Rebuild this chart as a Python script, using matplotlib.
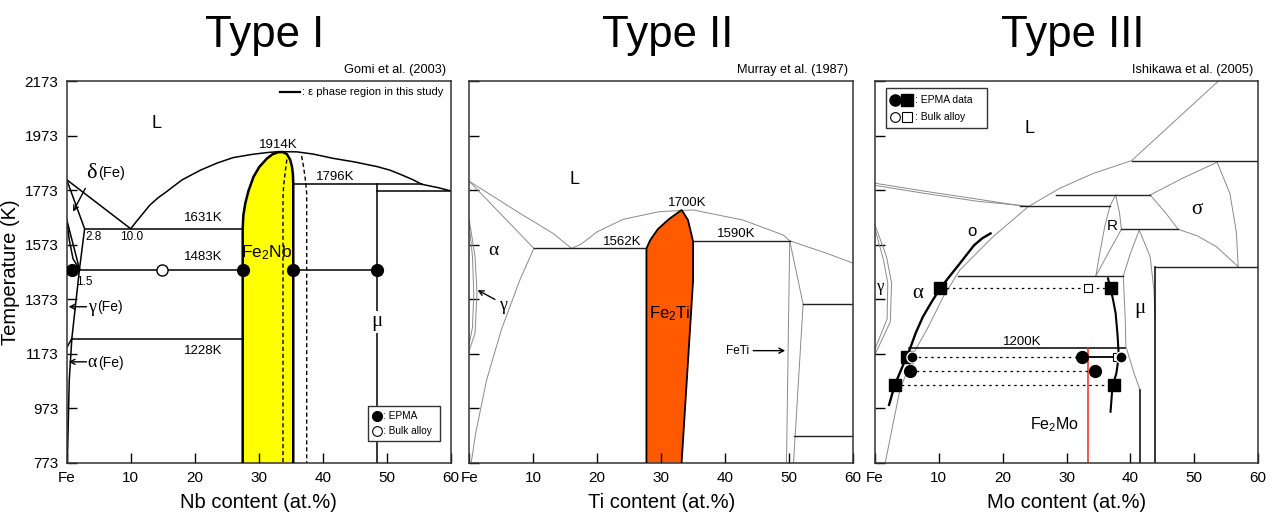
import matplotlib
matplotlib.use("Agg")
import matplotlib.pyplot as plt
from matplotlib.patches import Rectangle, Polygon

plt.rcParams["font.family"] = ["Liberation Sans", "DejaVu Sans"]
plt.rcParams["mathtext.fontset"] = "custom"
plt.rcParams["mathtext.rm"] = "Liberation Sans"
plt.rcParams["mathtext.it"] = "Liberation Sans:italic"

T_MIN, T_MAX = 773, 2173
temp_ticks = [773, 973, 1173, 1373, 1573, 1773, 1973, 2173]
comp_ticks = [0, 10, 20, 30, 40, 50, 60]
comp_labels = ["Fe", "10", "20", "30", "40", "50", "60"]
titles = ["Type I", "Type II", "Type III"]
xlabels = ["Nb content (at.%)", "Ti content (at.%)", "Mo content (at.%)"]
sources = ["Gomi et al. (2003)", "Murray et al. (1987)", "Ishikawa et al. (2005)"]

# ---------- Type I : Fe-Nb ----------
nb_liq_x = [0, 10.0, 10.8, 11.5, 13.0, 14.3, 15.6, 18.0, 20.9, 23.5, 26.0, 29.0, 31.5, 33.2,
            36.0, 38.5, 41.7, 45.0, 48.5, 50.5, 52.0, 54.0, 55.5, 58.0, 60.0]
nb_liq_t = [1811, 1631, 1655, 1675, 1718, 1745, 1767, 1810, 1846, 1872, 1892, 1904, 1911, 1914,
            1913, 1905, 1889, 1876, 1859, 1846, 1832, 1812, 1794, 1782, 1770]
nb_delta_x = [0, 2.8, 2.0]
nb_delta_t = [1811, 1631, 1483]
nb_gloop_x = [0, 2.0]
nb_gloop_t = [1665, 1483]
nb_gloop2_x = [0, 0.4, 1.0, 2.0]
nb_gloop2_t = [1665, 1590, 1520, 1483]
nb_gsolv_x = [2.0, 0.8, 0.4, 0.1]
nb_gsolv_t = [1483, 1228, 1076, 773]
nb_diag_x = [0.8, 0]
nb_diag_t = [1228, 1195]
nb_hx0 = [2.8, 0.9, 0.8, 35.4, 48.5, 35.4]
nb_hx1 = [27.5, 27.5, 27.5, 55.5, 60.0, 48.5]
nb_ht = [1631, 1480, 1228, 1796, 1770, 1478]
nb_mu_x = 48.5
nb_fe2nb_x = [27.5, 27.5, 27.6, 27.9, 28.4, 29.2, 30.1, 31.3, 32.2, 33.1, 33.8, 34.4, 34.9,
              35.2, 35.35, 35.4, 35.4]
nb_fe2nb_t = [773, 1631, 1680, 1724, 1770, 1822, 1858, 1889, 1905, 1912, 1912, 1905, 1885,
              1859, 1830, 1794, 773]
nb_dash1_x = [34.4, 34.1, 33.9, 33.8, 33.8]
nb_dash1_t = [1885, 1830, 1790, 1750, 773]
nb_dash2_x = [36.7, 37.0, 37.3, 37.5, 37.5]
nb_dash2_t = [1898, 1860, 1810, 1760, 773]
nb_epma_x = [0.9, 27.5, 35.4, 48.5]
nb_epma_t = [1478, 1478, 1478, 1478]
nb_bulk_x = [14.9]
nb_bulk_t = [1478]

# ---------- Type II : Fe-Ti ----------
ti_liq_x = [16.0, 17.5, 20.0, 24.1, 29.8, 35.0, 42.8, 49.1, 50.1, 55.9, 60.0]
ti_liq_t = [1559, 1575, 1620, 1666, 1694, 1700, 1663, 1608, 1587, 1541, 1505]
ti_la_x = [0, 10.1]
ti_la_t = [1805, 1559]
ti_lb_x = [0, 7.9, 13.1, 16.0]
ti_lb_t = [1805, 1688, 1614, 1559]
ti_asolv_x = [10.1, 7.9, 5.0, 2.7, 1.0, 0.3]
ti_asolv_t = [1559, 1443, 1260, 1076, 882, 773]
ti_gout_x = [0, 0.9, 1.2, 0.9, 0]
ti_gout_t = [1663, 1529, 1394, 1248, 1186]
ti_gin_x = [0, 0.5, 0.7, 0.5, 0]
ti_gin_t = [1640, 1529, 1394, 1270, 1210]
ti_fe2ti_x = [27.7, 27.7, 28.3, 29.5, 31.2, 33.2, 34.2, 35.0, 35.0, 33.2]
ti_fe2ti_t = [773, 1559, 1590, 1630, 1666, 1700, 1663, 1584, 1443, 773]
ti_hx0 = [10.1, 35.0, 52.2, 50.7]
ti_hx1 = [27.7, 50.1, 60.0, 60.0]
ti_ht = [1559, 1587, 1355, 872]
ti_feti1_x = [50.1, 49.6]
ti_feti1_t = [1587, 773]
ti_feti2_x = [50.1, 52.2, 50.7]
ti_feti2_t = [1587, 1355, 773]

# ---------- Type III : Fe-Mo ----------
mo_liqa_x = [0, 8, 16, 22.7]
mo_liqa_t = [1798, 1768, 1740, 1716]
mo_liqb_x = [0, 8, 16, 24.8]
mo_liqb_t = [1790, 1760, 1732, 1712]
mo_liq_x = [24.0, 28.9, 34.2, 40.2, 53.8]
mo_liq_t = [1712, 1779, 1834, 1881, 2173]
mo_hx0 = [40.2, 28.4, 22.7, 38.6, 43.9, 13.0]
mo_hx1 = [60.0, 43.1, 36.8, 47.5, 60.0, 38.9]
mo_ht = [1881, 1755, 1714, 1629, 1492, 1458]
mo_thin_lines = [
    ([37.7, 36.8], [1755, 1714]),
    ([37.7, 38.3, 38.6], [1755, 1690, 1629]),
    ([36.8, 36.0, 35.2, 34.6], [1714, 1640, 1540, 1458]),
    ([38.6, 36.5, 34.6], [1629, 1540, 1458]),
    ([43.1, 45.5, 47.5], [1755, 1690, 1629]),
    ([43.1, 48.5, 53.6], [1755, 1820, 1875]),
    ([53.6, 55.6, 56.6, 56.9], [1875, 1760, 1620, 1492]),
    ([47.5, 50.5, 53.5, 56.9], [1629, 1605, 1565, 1492]),
    ([41.4, 40.0, 38.9], [1626, 1540, 1458]),
    ([41.4, 43.1, 43.7, 43.9], [1626, 1529, 1406, 1300]),
    ([38.9, 39.2, 39.3, 40.6, 41.5], [1458, 1300, 1200, 1100, 1040]),
    ([0, 1.8, 2.6, 2.4, 0], [1645, 1529, 1432, 1290, 1170]),
    ([0, 1.3, 2.0, 1.9, 0], [1630, 1520, 1432, 1300, 1190]),
    ([24.0, 18.5, 13.3, 10.7, 8.1, 6.3, 3.9, 1.6], [1712, 1602, 1480, 1382, 1260, 1186, 1040, 773]),
]
mo_vx = [43.9, 41.5]
mo_vt0 = [773, 773]
mo_vt1 = [1492, 1040]
mo_alpha_x = [18.1, 16.8, 15.5, 13.3, 11.8, 10.2, 8.8, 7.5, 6.4, 5.4, 4.2, 3.1, 2.2]
mo_alpha_t = [1614, 1596, 1570, 1504, 1460, 1412, 1360, 1308, 1250, 1186, 1120, 1058, 985]
mo_fe2mo_x = [36.5, 36.9, 37.3, 37.7, 38.0, 38.2, 37.8, 37.2, 36.9]
mo_fe2mo_t = [1449, 1412, 1370, 1321, 1240, 1162, 1100, 1052, 960]
mo_1200_x = [5.4, 39.2]
mo_1200_t = 1192
mo_red_x = 33.3
mo_tie_t = [1412, 1160, 1110, 1058]
mo_tie_x0 = [10.2, 5.8, 5.5, 3.1]
mo_tie_x1 = [37.0, 32.5, 34.4, 37.4]
mo_sq_x = [10.2, 37.0, 5.0, 3.1, 37.4]
mo_sq_t = [1412, 1412, 1160, 1058, 1058]
mo_ci_x = [32.5, 5.5, 34.4]
mo_ci_t = [1160, 1110, 1110]
mo_ci_w_x = [5.8, 38.6]
mo_ci_w_t = [1160, 1160]
mo_osq_x = [33.4, 37.9]
mo_osq_t = [1412, 1160]

GREY = "#8a8a8a"
SERIF = ["Liberation Serif", "DejaVu Serif"]

fig = plt.figure(figsize=(12.8, 5.25), dpi=100)
W, H = 1280, 525
lefts = [66.7, 469.3, 875.0]
rights = [450.7, 853.0, 1258.0]
top, bottom = 81.0, 462.7
axes = []
for i in range(3):
    ax = fig.add_axes([lefts[i] / W, 1 - bottom / H, (rights[i] - lefts[i]) / W, (bottom - top) / H])
    ax.set_xlim(0, 60)
    ax.set_ylim(T_MIN, T_MAX)
    ax.set_xticks(comp_ticks)
    ax.set_xticklabels(comp_labels, fontsize=11)
    ax.set_yticks(temp_ticks)
    ax.tick_params(direction="in", length=7, width=1, pad=6)
    if i == 0:
        ax.set_yticklabels([str(t) for t in temp_ticks], fontsize=11)
        ax.set_ylabel("Temperature (K)", fontsize=14.5, labelpad=3)
    else:
        ax.set_yticklabels([])
    for s in ax.spines.values():
        s.set_linewidth(1.1)
        s.set_color("#333333")
    ax.set_xlabel(xlabels[i], fontsize=14.5, labelpad=6)
    ax.text(0.987, 1.012, sources[i], transform=ax.transAxes, ha="right", va="bottom", fontsize=9.2)
    fig.text((lefts[i] + rights[i]) / 2 / W + 0.005, 1 - 36 / H, titles[i], ha="center", va="center",
             fontsize=31.5)
    axes.append(ax)


def greek(ax, x, t, g, rest="", size=14, rsize=9.5, dx=None):
    ax.text(x, t, g, family=SERIF, fontsize=size, ha="left", va="center")
    if rest:
        ax.annotate(rest, (x, t), xytext=(dx if dx else size * 0.55, 0), textcoords="offset points",
                    fontsize=rsize, ha="left", va="center")


def arrow(ax, tip, tail, lw=1.0):
    ax.annotate("", xy=tip, xytext=tail,
                arrowprops=dict(arrowstyle="->,head_length=0.35,head_width=0.18", lw=lw, color="k",
                                shrinkA=0, shrinkB=0))


# ===== Type I =====
ax = axes[0]
k = dict(color="k", lw=1.1)
ax.add_patch(Polygon(list(zip(nb_fe2nb_x, nb_fe2nb_t)), closed=False, facecolor="#ffff00",
                     edgecolor="none", zorder=1))
ax.plot(nb_fe2nb_x, nb_fe2nb_t, color="k", lw=1.8, zorder=3)
ax.plot(nb_liq_x, nb_liq_t, **k)
ax.plot(nb_delta_x, nb_delta_t, **k)
ax.plot(nb_gloop_x, nb_gloop_t, **k)
ax.plot(nb_gloop2_x, nb_gloop2_t, **k)
ax.plot(nb_gsolv_x, nb_gsolv_t, **k)
ax.plot(nb_diag_x, nb_diag_t, **k)
for x0, x1, t in zip(nb_hx0, nb_hx1, nb_ht):
    ax.plot([x0, x1], [t, t], **k)
ax.plot([nb_mu_x, nb_mu_x], [T_MIN, 1796], **k)
ax.plot(nb_dash1_x, nb_dash1_t, color="k", lw=1.0, ls=(0, (3, 2)))
ax.plot(nb_dash2_x, nb_dash2_t, color="k", lw=1.0, ls=(0, (3, 2)))
ax.plot(nb_epma_x, nb_epma_t, "o", ms=8.5, color="k", zorder=5)
ax.plot(nb_bulk_x, nb_bulk_t, "o", ms=8, mfc="white", mec="k", mew=1, zorder=5)

ax.text(14.1, 2018, "L", fontsize=13, ha="center", va="center")
ax.text(33.1, 1940, "1914K", fontsize=9.5, ha="center", va="center")
ax.text(41.9, 1822, "1796K", fontsize=9.5, ha="center", va="center")
ax.text(21.3, 1669, "1631K", fontsize=9.5, ha="center", va="center")
ax.text(21.3, 1527, "1483K", fontsize=9.5, ha="center", va="center")
ax.text(21.3, 1183, "1228K", fontsize=9.5, ha="center", va="center")
ax.text(2.9, 1602, "2.8", fontsize=8.5, ha="left", va="center")
ax.text(10.1, 1602, "10.0", fontsize=8.5, ha="center", va="center")
ax.text(1.4, 1437, "1.5", fontsize=8.5, ha="left", va="center")
ax.text(31.3, 1543, "Fe$_2$Nb", fontsize=12.5, ha="center", va="center", zorder=6)
ax.text(nb_mu_x, 1290, "μ", family=SERIF, fontsize=15, ha="center", va="center",
        bbox=dict(facecolor="white", edgecolor="none", pad=1))
greek(ax, 3.0, 1835, "δ", "(Fe)", size=16, rsize=10.5, dx=8.5)
arrow(ax, (1.0, 1694), (2.9, 1779))
greek(ax, 3.3, 1343, "γ", "(Fe)", size=13, rsize=10, dx=6.5)
arrow(ax, (0.3, 1345), (3.1, 1345))
greek(ax, 3.3, 1140, "α", "(Fe)", size=13, rsize=10, dx=7.5)
arrow(ax, (0.3, 1143), (3.1, 1143))
ax.plot([33.3, 36.5], [2132, 2132], color="k", lw=1.6)
ax.text(36.8, 2132, ": ε phase region in this study", fontsize=8, ha="left", va="center")
ax.add_patch(Rectangle((47.1, 852), 11.3, 129, facecolor="white", edgecolor="#333333", lw=1, zorder=6))
ax.plot([48.5], [944], "o", ms=7, color="k", zorder=7)
ax.plot([48.5], [890], "o", ms=7, mfc="white", mec="k", mew=0.8, zorder=7)
ax.text(49.4, 944, ": EPMA", fontsize=7.3, ha="left", va="center", zorder=7)
ax.text(49.4, 890, ": Bulk alloy", fontsize=7.3, ha="left", va="center", zorder=7)

# ===== Type II =====
ax = axes[1]
g = dict(color=GREY, lw=0.7)
d = dict(color="#222222", lw=1.0)
ax.add_patch(Polygon(list(zip(ti_fe2ti_x, ti_fe2ti_t)), closed=True, facecolor="#ff5a00",
                     edgecolor="none", zorder=1))
ax.plot(ti_fe2ti_x, ti_fe2ti_t, color="k", lw=1.3, zorder=3)
ax.plot(ti_liq_x, ti_liq_t, **g)
ax.plot(ti_la_x, ti_la_t, **g)
ax.plot(ti_lb_x, ti_lb_t, **g)
ax.plot(ti_asolv_x, ti_asolv_t, **g)
ax.plot(ti_gout_x, ti_gout_t, **g)
ax.plot(ti_gin_x, ti_gin_t, **g)
ax.plot(ti_feti1_x, ti_feti1_t, **g)
ax.plot(ti_feti2_x, ti_feti2_t, **g)
for x0, x1, t in zip(ti_hx0, ti_hx1, ti_ht):
    ax.plot([x0, x1], [t, t], **d)
ax.text(16.5, 1810, "L", fontsize=13, ha="center", va="center")
ax.text(34.0, 1727, "1700K", fontsize=9.5, ha="center", va="center")
ax.text(23.9, 1584, "1562K", fontsize=9.5, ha="center", va="center")
ax.text(41.8, 1612, "1590K", fontsize=9.5, ha="center", va="center")
ax.text(31.4, 1321, "Fe$_2$Ti", fontsize=12, ha="center", va="center", zorder=6)
ax.text(40.2, 1184, "FeTi", fontsize=8.5, ha="left", va="center")
arrow(ax, (49.4, 1184), (44.4, 1184))
ax.text(3.0, 1553, "α", family=SERIF, fontsize=14, ha="left", va="center")
ax.text(4.7, 1350, "γ", family=SERIF, fontsize=13, ha="left", va="center")
arrow(ax, (1.3, 1406), (4.0, 1372))

# ===== Type III =====
ax = axes[2]
for xs, ts in [(mo_liqa_x, mo_liqa_t), (mo_liqb_x, mo_liqb_t), (mo_liq_x, mo_liq_t)] + mo_thin_lines:
    ax.plot(xs, ts, **g)
for x0, x1, t in zip(mo_hx0, mo_hx1, mo_ht):
    ax.plot([x0, x1], [t, t], **d)
for x, t0, t1 in zip(mo_vx, mo_vt0, mo_vt1):
    ax.plot([x, x], [t0, t1], color="k", lw=1.1)
ax.plot(mo_1200_x, [mo_1200_t, mo_1200_t], color="k", lw=1.1)
ax.plot([mo_red_x, mo_red_x], [T_MIN, mo_1200_t], color="#e8301c", lw=1.1)
ax.plot(mo_alpha_x, mo_alpha_t, color="k", lw=1.7)
ax.plot(mo_fe2mo_x, mo_fe2mo_t, color="k", lw=1.5)
for x0, x1, t in zip(mo_tie_x0, mo_tie_x1, mo_tie_t):
    ax.plot([x0, x1], [t, t], color="k", lw=0.9, ls=(0, (2, 3)))
ax.plot([32.5, 37.9], [1160, 1160], color="k", lw=1.3)
ax.plot(mo_sq_x, mo_sq_t, "s", ms=8.5, color="k", zorder=5)
ax.plot(mo_osq_x, mo_osq_t, "s", ms=6, mfc="white", mec="k", mew=0.8, zorder=5)
ax.plot(mo_ci_x, mo_ci_t, "o", ms=8.5, color="k", zorder=5)
ax.plot(mo_ci_w_x, mo_ci_w_t, "o", ms=8, mfc="k", mec="white", mew=1, zorder=6)

ax.text(24.2, 2000, "L", fontsize=13, ha="center", va="center")
ax.text(23.0, 1217, "1200K", fontsize=9.5, ha="center", va="center")
ax.text(28.2, 911, "Fe$_2$Mo", fontsize=11.5, ha="center", va="center")
ax.text(40.6, 1339, "μ", family=SERIF, fontsize=15, ha="left", va="center")
ax.text(5.8, 1394, "α", family=SERIF, fontsize=15, ha="left", va="center")
ax.text(0.3, 1418, "γ", family=SERIF, fontsize=12, ha="left", va="center")
ax.text(15.2, 1622, "o", fontsize=12, ha="center", va="center")
ax.text(37.2, 1640, "R", fontsize=11, ha="center", va="center")
ax.text(50.5, 1700, "σ", family=SERIF, fontsize=15, ha="center", va="center")
ax.add_patch(Rectangle((1.8, 1999), 15.7, 147, facecolor="white", edgecolor="#333333", lw=1, zorder=6))
ax.plot([3.1], [2103], "o", ms=8, color="k", zorder=7)
ax.plot([5.0], [2103], "s", ms=8, color="k", zorder=7)
ax.plot([3.1], [2042], "o", ms=7, mfc="white", mec="k", mew=0.8, zorder=7)
ax.plot([5.0], [2042], "s", ms=7, mfc="white", mec="k", mew=0.8, zorder=7)
ax.text(6.3, 2103, ": EPMA data", fontsize=7.5, ha="left", va="center", zorder=7)
ax.text(6.3, 2042, ": Bulk alloy", fontsize=7.5, ha="left", va="center", zorder=7)

fig.savefig("out.png", dpi=100)
